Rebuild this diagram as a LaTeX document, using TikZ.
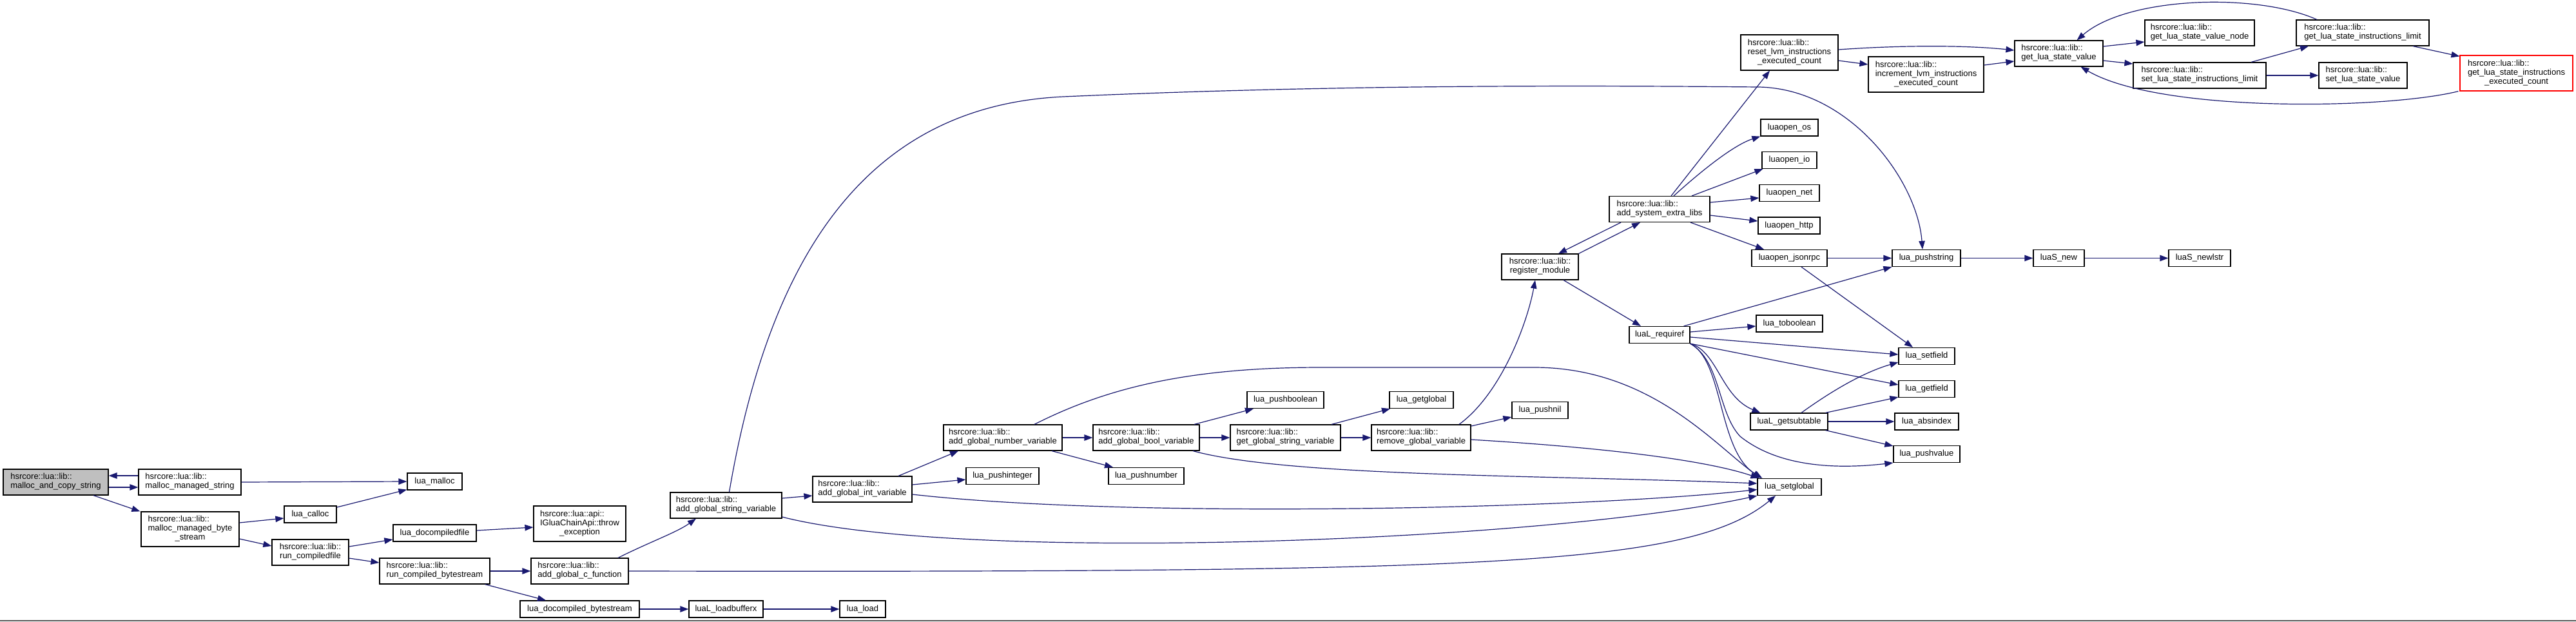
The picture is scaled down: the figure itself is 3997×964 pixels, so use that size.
\documentclass[tikz,border=0pt]{standalone}
\usepackage{fontspec}
\setmainfont{Liberation Sans}
\usetikzlibrary{arrows.meta,calc}
\definecolor{edgec}{HTML}{191970}
\definecolor{selfill}{HTML}{BFBFBF}
\newcommand\twol[2]{\begin{tabular}{@{}l@{}}#1\\\multicolumn{1}{@{}c@{}}{#2}\end{tabular}}
\newcommand\threel[3]{\begin{tabular}{@{}l@{}}#1\\#2\\\multicolumn{1}{@{}c@{}}{#3}\end{tabular}}
\newcommand\hl{hsrcore::lua::lib::}
\tikzset{
  fn/.style={draw=black, line width=1.2pt, fill=white, inner sep=0pt, anchor=center,
    font=\fontsize{13}{14}\selectfont},
  nb/.style 2 args={fn, minimum width=#1, minimum height=#2},
  conn/.style={draw=edgec, line width=1.2pt, -{Triangle[length=13pt,width=9.5pt]}},
}
\begin{document}
\begin{tikzpicture}[x=1pt,y=-1pt]
\fill[white] (0,0) rectangle (3997,964);
\useasboundingbox (0,0) rectangle (3997,964);
\draw[black!65, line width=1.5pt] (0,963) -- (3997,963);

% nodes
\node[nb={163pt}{40pt}, fill=selfill] (mcs) at (86.5,748) {\twol{\hl}{malloc\_and\_copy\_string}};
\node[nb={159pt}{40pt}] (mms) at (294.5,748) {\twol{\hl}{malloc\_managed\_string}};
\node[nb={152pt}{54pt}] (mmb) at (295,821) {\threel{\hl}{malloc\_managed\_byte}{\_stream}};
\node[nb={85pt}{26pt}] (malloc) at (674.5,747) {lua\_malloc};
\node[nb={81pt}{26pt}] (calloc) at (481.5,798) {lua\_calloc};
\node[nb={119pt}{40pt}] (rcf) at (481.5,857) {\twol{\hl}{run\_compiledfile}};
\node[nb={129pt}{26pt}] (docf) at (674.5,827) {lua\_docompiledfile};
\node[nb={143pt}{55pt}] (thr) at (899.5,812.5) {\threel{hsrcore::lua::api::}{IGluaChainApi::throw}{\_exception}};
\node[nb={171pt}{40pt}] (rcb) at (674.5,886) {\twol{\hl}{run\_compiled\_bytestream}};
\node[nb={151pt}{40pt}] (agc) at (899.5,886) {\twol{\hl}{add\_global\_c\_function}};
\node[nb={185pt}{26pt}] (docb) at (899.5,945) {lua\_docompiled\_bytestream};
\node[nb={115pt}{26pt}] (lbx) at (1126.5,945) {luaL\_loadbufferx};
\node[nb={71pt}{26pt}] (load) at (1338.5,945) {lua\_load};
\node[nb={173pt}{40pt}] (agsv) at (1126.5,784) {\twol{\hl}{add\_global\_string\_variable}};
\node[nb={154pt}{40pt}] (agiv) at (1338,759) {\twol{\hl}{add\_global\_int\_variable}};
\node[nb={184pt}{40pt}] (agnv) at (1556,679) {\twol{\hl}{add\_global\_number\_variable}};
\node[nb={113pt}{26pt}] (pint) at (1555.5,738.5) {lua\_pushinteger};
\node[nb={165pt}{40pt}] (agbv) at (1778.5,679) {\twol{\hl}{add\_global\_bool\_variable}};
\node[nb={117pt}{26pt}] (pnum) at (1778.5,738.5) {lua\_pushnumber};
\node[nb={119pt}{26pt}] (pbool) at (1994.5,620.5) {lua\_pushboolean};
\node[nb={171pt}{40pt}] (ggsv) at (1994.5,679) {\twol{\hl}{get\_global\_string\_variable}};
\node[nb={99pt}{26pt}] (getg) at (2205.5,620.5) {lua\_getglobal};
\node[nb={154pt}{40pt}] (rgv) at (2205,679) {\twol{\hl}{remove\_global\_variable}};
\node[nb={87pt}{26pt}] (pnil) at (2389.5,636.5) {lua\_pushnil};
\node[nb={119pt}{40pt}] (regm) at (2389.5,414) {\twol{\hl}{register\_module}};
\node[nb={94pt}{26pt}] (req) at (2575,519.5) {luaL\_requiref};
\node[nb={156pt}{40pt}] (asel) at (2575,324.5) {\twol{\hl}{add\_system\_extra\_libs}};
\node[nb={89pt}{26pt}] (os) at (2776.5,198) {luaopen\_os};
\node[nb={85pt}{26pt}] (io) at (2776.5,248.5) {luaopen\_io};
\node[nb={93pt}{26pt}] (net) at (2776.5,299.5) {luaopen\_net};
\node[nb={96pt}{26pt}] (http) at (2776,350) {luaopen\_http};
\node[nb={117pt}{26pt}] (jrpc) at (2776.5,400.5) {luaopen\_jsonrpc};
\node[nb={103pt}{26pt}] (tobool) at (2776.5,502) {lua\_toboolean};
\node[nb={120pt}{26pt}] (gst) at (2776,654) {luaL\_getsubtable};
\node[nb={99pt}{26pt}] (setg) at (2776.5,755.5) {lua\_setglobal};
\node[nb={151pt}{55pt}] (reset) at (2776.5,81.5) {\threel{\hl}{reset\_lvm\_instructions}{\_executed\_count}};
\node[nb={179pt}{55pt}] (incr) at (2988.5,115.5) {\threel{\hl}{increment\_lvm\_instructions}{\_executed\_count}};
\node[nb={106pt}{26pt}] (pstr) at (2989,400.5) {lua\_pushstring};
\node[nb={87pt}{26pt}] (setf) at (2989.5,552.5) {lua\_setfield};
\node[nb={87pt}{26pt}] (getf) at (2989.5,603.5) {lua\_getfield};
\node[nb={99pt}{26pt}] (absi) at (2989.5,654) {lua\_absindex};
\node[nb={103pt}{26pt}] (pval) at (2989.5,704.5) {lua\_pushvalue};
\node[nb={79pt}{26pt}] (snew) at (3194.5,400.5) {luaS\_new};
\node[nb={96pt}{26pt}] (snl) at (3413,400.5) {luaS\_newlstr};
\node[nb={137pt}{40pt}] (glsv) at (3194.5,83) {\twol{\hl}{get\_lua\_state\_value}};
\node[nb={170pt}{40pt}] (glsvn) at (3413,51) {\twol{\hl}{get\_lua\_state\_value\_node}};
\node[nb={206pt}{40pt}] (slsil) at (3413,117) {\twol{\hl}{set\_lua\_state\_instructions\_limit}};
\node[nb={206pt}{40pt}] (glsil) at (3666,51) {\twol{\hl}{get\_lua\_state\_instructions\_limit}};
\node[nb={137pt}{40pt}] (slsv) at (3666.5,117) {\twol{\hl}{set\_lua\_state\_value}};
\node[nb={175pt}{55pt}, draw=red] (glsiec) at (3904.5,113.5) {\threel{\hl}{get\_lua\_state\_instructions}{\_executed\_count}};

% edges
\draw[conn] ([yshift=10pt]mms.west) -- ([yshift=10pt]mcs.east);
\draw[conn] ([yshift=-8pt]mcs.east) -- ([yshift=-8pt]mms.west);
\draw[conn] ([xshift=58.5pt]mcs.south) -- ([xshift=-1pt]mmb.north west);
\draw[conn] (mms.east) -- (malloc.west);
\draw[conn] ([yshift=11pt]calloc.east) -- ([yshift=1pt]malloc.south west);
\draw[conn] ([yshift=10pt]mmb.east) -- ([yshift=-6pt]calloc.west);
\draw[conn] ([yshift=-15pt]mmb.east) -- ([yshift=10pt]rcf.west);
\draw[conn] ([yshift=9pt]rcf.east) -- ([yshift=-10pt]docf.west);
\draw[conn] ([yshift=-9pt]rcf.east) -- ([yshift=13pt]rcb.west);
\draw[conn] ([yshift=4pt]docf.east) -- ([yshift=-5.5pt]thr.west);
\draw[conn] (rcb.east) -- (agc.west);
\draw[conn] ([xshift=-8pt]rcb.south east) -- ([xshift=-52.5pt]docb.north);
\draw[conn] (docb.east) -- (lbx.west);
\draw[conn] (lbx.east) -- (load.west);
\draw[conn] ([xshift=59.5pt]agc.north) .. controls (1010,840) and (1050,826) .. ([xshift=-46.5pt]agsv.south);
\draw[conn] (agc.east) .. controls (2300,888) and (2620,880) .. ([xshift=-21.5pt]setg.south);
\draw[conn] ([yshift=11pt]agsv.east) -- ([yshift=-10pt]agiv.west);
\draw[conn] ([yshift=-18pt]agsv.east) .. controls (1500,875) and (2400,840) .. (setg.south west);
\draw[conn] ([xshift=56pt]agiv.north) -- ([xshift=-69pt]agnv.south);
\draw[conn] ([yshift=7pt]agiv.east) -- ([yshift=-5.5pt]pint.west);
\draw[conn] ([yshift=-8pt]agiv.east) .. controls (1750,805) and (2450,790) .. ([yshift=-4pt]setg.west);
\draw[conn] (agnv.east) -- (agbv.west);
\draw[conn] ([xshift=76pt]agnv.south) -- ([xshift=-51.5pt]pnum.north);
\draw[conn] ([xshift=49pt]agnv.north) .. controls (1720,600) and (1850,570) .. (2050,570) -- (2380,570) .. controls (2560,570) and (2660,690) .. ([xshift=6pt]setg.north west);
\draw[conn] ([xshift=74.5pt]agbv.north) -- ([xshift=-49.5pt]pbool.south);
\draw[conn] (agbv.east) -- (ggsv.west);
\draw[conn] ([xshift=72.5pt]agbv.south) .. controls (2000,740) and (2400,737) .. ([yshift=5.5pt]setg.west);
\draw[conn] ([xshift=71.5pt]ggsv.north) -- ([xshift=-48.5pt]getg.south);
\draw[conn] (ggsv.east) -- (rgv.west);
\draw[conn] ([yshift=18pt]rgv.east) -- ([yshift=-10.5pt]pnil.west);
\draw[conn] ([xshift=59pt]rgv.north) .. controls (2330,610) and (2370,500) .. ([xshift=-7.5pt]regm.south);
\draw[conn] ([yshift=-3pt]rgv.east) .. controls (2500,695) and (2650,715) .. ([xshift=3pt]setg.north west);
\draw[conn] ([xshift=36.5pt]regm.south) -- ([xshift=-29pt]req.north);
\draw[conn] (regm.north east) -- ([xshift=-30pt]asel.south);
\draw[conn] ([xshift=-60pt]asel.south) -- ([xshift=28.5pt]regm.north);
\draw[conn] ([xshift=18pt]asel.north) -- ([xshift=-30.5pt]reset.south);
\draw[conn] ([xshift=22pt]asel.north) .. controls (2640,265) and (2690,225) .. (os.south west);
\draw[conn] ([xshift=50pt]asel.north) -- ([xshift=2pt]io.south west);
\draw[conn] ([yshift=10.5pt]asel.east) -- ([yshift=-7.5pt]net.west);
\draw[conn] ([yshift=-9.5pt]asel.east) -- ([yshift=7pt]http.west);
\draw[conn] ([xshift=48pt]asel.south) -- ([xshift=-39.5pt]jrpc.north);
\draw[conn] (jrpc.east) -- (pstr.west);
\draw[conn] ([xshift=18.5pt]jrpc.south) -- ([xshift=-21.5pt]setf.north);
\draw[conn] (pstr.east) -- (snew.west);
\draw[conn] (snew.east) -- (snl.west);
\draw[conn] ([xshift=-10pt]req.north east) -- (pstr.south west);
\draw[conn] ([yshift=4.5pt]req.east) -- ([yshift=-4pt]tobool.west);
\draw[conn] ([yshift=-3.5pt]req.east) -- ([yshift=2.5pt]setf.west);
\draw[conn] (req.south east) -- ([yshift=6.5pt]getf.west);
\draw[conn] (req.south east) .. controls (2665,545) and (2670,615) .. ([xshift=16pt]gst.north west);
\draw[conn] (req.south east) .. controls (2670,560) and (2665,640) .. (2700,677) .. controls (2760,725) and (2850,728) .. (pval.south west);
\draw[conn] (req.south east) .. controls (2675,560) and (2665,700) .. ([xshift=8pt]setg.north west);
\draw[conn] ([xshift=19pt]gst.north) .. controls (2840,608) and (2890,578) .. ([yshift=-9.5pt]setf.west);
\draw[conn] ([xshift=-4pt]gst.north east) -- ([yshift=1pt]getf.south west);
\draw[conn] (gst.east) -- (absi.west);
\draw[conn] ([xshift=-4pt]gst.south east) -- ([yshift=-1pt]pval.north west);
\draw[conn] ([yshift=4.5pt]reset.east) .. controls (2950,70) and (3050,70) .. ([yshift=5pt]glsv.west);
\draw[conn] ([yshift=-12.5pt]reset.east) -- ([yshift=15.5pt]incr.west);
\draw[conn] ([yshift=14.5pt]incr.east) -- ([yshift=-12pt]glsv.west);
\draw[conn] ([yshift=11pt]glsv.east) -- ([yshift=-14pt]glsvn.west);
\draw[conn] ([yshift=-11pt]glsv.east) -- ([yshift=18pt]slsil.west);
\draw[conn] ([xshift=-71pt]glsil.north) .. controls (3500,-12) and (3300,-5) .. ([xshift=28pt]glsv.north);
\draw[conn] ([xshift=80pt]slsil.north) -- ([xshift=-84pt]glsil.south);
\draw[conn] (slsil.east) -- (slsv.west);
\draw[conn] ([xshift=78pt]glsil.south) -- ([yshift=-2pt]glsiec.north west);
\draw[conn] ([xshift=-2pt]glsiec.south west) .. controls (3700,170) and (3350,175) .. ([xshift=34pt]glsv.south);
\draw[conn] ([xshift=5pt]agsv.north) .. controls (1190,420) and (1330,165) .. (1650,150) .. controls (2100,130) and (2500,133) .. (2728,135) .. controls (2870,137) and (2975,280) .. ([xshift=-6pt]pstr.north);
\end{tikzpicture}
\end{document}
